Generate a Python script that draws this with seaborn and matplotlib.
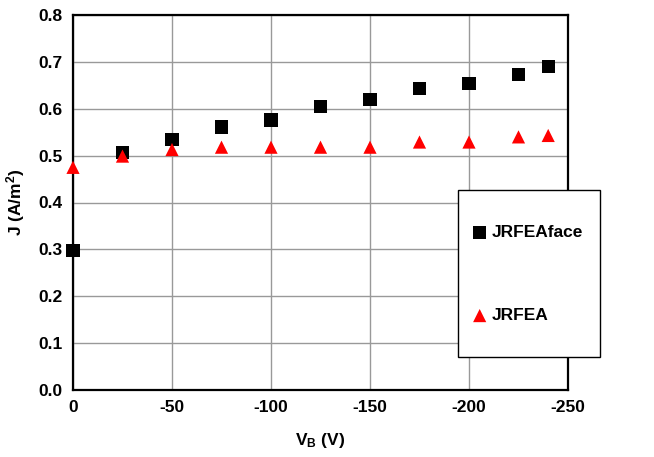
import matplotlib
matplotlib.use("Agg")
import matplotlib.pyplot as plt
import seaborn as sns
import pandas as pd
from matplotlib.patches import Rectangle

# values
vb = [0, -25, -50, -75, -100, -125, -150, -175, -200, -225, -240]
j_face = [0.297, 0.506, 0.534, 0.561, 0.576, 0.605, 0.620, 0.644, 0.654, 0.673, 0.691]
j_rfea = [0.475, 0.499, 0.513, 0.518, 0.518, 0.518, 0.518, 0.529, 0.529, 0.540, 0.543]
x_ticks = [0, -50, -100, -150, -200, -250]
y_ticks = [0.0, 0.1, 0.2, 0.3, 0.4, 0.5, 0.6, 0.7, 0.8]

sns.set_style("white")
plt.rcParams["font.family"] = ["Liberation Sans", "DejaVu Sans"]
plt.rcParams["font.weight"] = "bold"
plt.rcParams["text.color"] = "black"
plt.rcParams["axes.labelcolor"] = "black"
plt.rcParams["axes.unicode_minus"] = False
plt.rcParams["mathtext.fontset"] = "custom"
plt.rcParams["mathtext.rm"] = "Liberation Sans:bold"
plt.rcParams["mathtext.default"] = "rm"

df_face = pd.DataFrame({"VB": vb, "J": j_face})
df_rfea = pd.DataFrame({"VB": vb, "J": j_rfea})

fig = plt.figure(figsize=(6.54, 4.57), dpi=100)
ax = fig.add_axes([73 / 654, 67 / 457, 495 / 654, 375 / 457])

sns.scatterplot(data=df_face, x="VB", y="J", marker="s", color="black", s=90,
                edgecolor="none", label="JRFEAface", ax=ax, zorder=3, clip_on=False)
sns.scatterplot(data=df_rfea, x="VB", y="J", marker="^", color="red", s=90,
                edgecolor="none", label="JRFEA", ax=ax, zorder=3, clip_on=False)

ax.set_xlim(0, -250)
ax.set_ylim(0, 0.8)
ax.set_xticks(x_ticks)
ax.set_xticklabels([str(t) for t in x_ticks])
ax.set_yticks(y_ticks)
ax.set_yticklabels([f"{t:.1f}" for t in y_ticks])
ax.tick_params(labelsize=12.5, length=4, width=1.2, direction="out", colors="black")
ax.grid(True, color="#999999", lw=1)
for sp in ax.spines.values():
    sp.set_color("black")
    sp.set_linewidth(1.6)

ax.set_xlabel("V$_{B}$ (V)", fontsize=12.5, fontweight="bold", labelpad=11)
ax.set_ylabel("J (A/m$^{2}$)", fontsize=12.5, fontweight="bold", labelpad=8)

# legend box sticks out past the right spine
box = Rectangle((0.778, 0.088), 0.287, 0.445, transform=ax.transAxes, clip_on=False,
                facecolor="white", edgecolor="black", lw=1, zorder=5)
ax.add_patch(box)
leg = ax.legend(loc="center left", bbox_to_anchor=(0.79, 0.309), frameon=False,
                borderpad=0, labelspacing=3.9, handlelength=0.8, handletextpad=0.3,
                fontsize=12.5, markerscale=1.0)
leg.set_zorder(6)

fig.savefig("out.png", dpi=100)
